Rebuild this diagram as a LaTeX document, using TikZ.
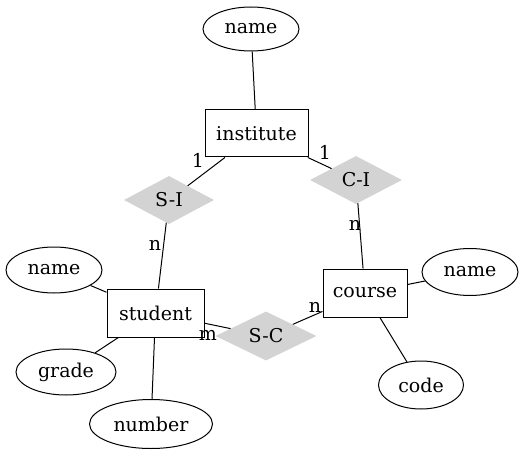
\documentclass[tikz,border=0pt]{standalone}
\usepackage{fontspec}
\setmainfont{DejaVu Serif}
\usetikzlibrary{shapes.geometric}
\begin{document}
\begin{tikzpicture}[x=1pt,y=-1pt,
  every node/.style={font=\fontsize{19pt}{22pt}\selectfont},
  entity/.style={draw, line width=1pt, rectangle, inner sep=0pt},
  attr/.style={draw, line width=1pt, ellipse, inner sep=0pt},
  rel/.style={diamond, fill={rgb,255:red,211;green,211;blue,211}, inner sep=0pt, aspect=1.9},
  lbl/.style={inner sep=0pt, font=\fontsize{19pt}{22pt}\selectfont},
  conn/.style={line width=1pt}]
\useasboundingbox (0,0) rectangle (529,454);
% entities
\node[entity, minimum width=103pt, minimum height=47pt] (inst) at (256.5,133.5) {institute};
\node[entity, minimum width=97pt, minimum height=48pt] (stud) at (155.5,313) {student};
\node[entity, minimum width=84pt, minimum height=48pt] (cour) at (365,293) {course};
% relations
\node[rel, minimum width=90pt, minimum height=48pt] (si) at (169,200) {S-I};
\node[rel, minimum width=92pt, minimum height=48pt] (ci) at (356,180) {C-I};
\node[rel, minimum width=101pt, minimum height=49pt] (sc) at (266,336) {S-C};
% attributes
\node[attr, minimum width=96pt, minimum height=44pt] (iname) at (251,29) {name};
\node[attr, minimum width=96pt, minimum height=46pt] (sname) at (54,270) {name};
\node[attr, minimum width=100pt, minimum height=46pt] (grade) at (66,372) {grade};
\node[attr, minimum width=123pt, minimum height=49pt] (numb) at (151,424) {number};
\node[attr, minimum width=96pt, minimum height=47pt] (cname) at (470,272) {name};
\node[attr, minimum width=85pt, minimum height=48pt] (code) at (421,385) {code};
% connectors
\draw[conn] (iname) -- (inst);
\draw[conn] (si) -- (inst);
\draw[conn] (ci) -- (inst);
\draw[conn] (si) -- (stud);
\draw[conn] (ci) -- (cour);
\draw[conn] (stud) -- (sc);
\draw[conn] (sc) -- (cour);
\draw[conn] (sname) -- (stud);
\draw[conn] (grade) -- (stud);
\draw[conn] (numb) -- (stud);
\draw[conn] (cour) -- (cname);
\draw[conn] (cour) -- (code);
% edge labels
\node[lbl] (l1) at (198,160) {1};
\node[lbl] (l2) at (325,152) {1};
\node[lbl] (l3) at (155,245) {n};
\node[lbl] (l4) at (355,225) {n};
\node[lbl] (l5) at (315,307) {n};
\node[lbl] (l6) at (208,335) {m};
\end{tikzpicture}
\end{document}
